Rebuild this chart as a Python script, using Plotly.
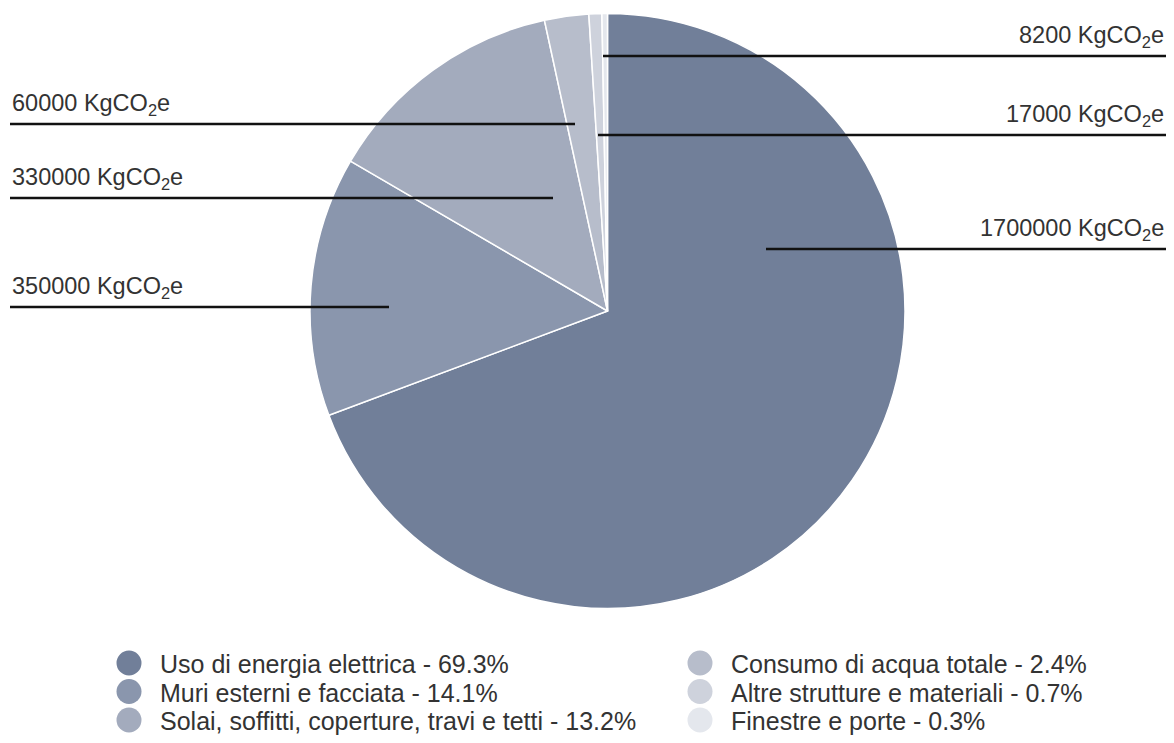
import plotly.graph_objects as go

# ---- data ----
categories = [
    "Uso di energia elettrica",
    "Muri esterni e facciata",
    "Solai, soffitti, coperture, travi e tetti",
    "Consumo di acqua totale",
    "Altre strutture e materiali",
    "Finestre e porte",
]
shares = [69.3, 14.1, 13.2, 2.4, 0.7, 0.3]
emissions = [1700000, 350000, 330000, 60000, 17000, 8200]
unit = "KgCO<sub>2</sub>e"

# ---- style / layout constants ----
colors = ["#717f99", "#8a96ad", "#a3abbd", "#b7bdcb", "#ced2dc", "#e4e7ed"]
W, H = 1174, 743
FONT = "Liberation Sans, Arial, Helvetica, sans-serif"
TEXT_COLOR = "#333333"

def px(x):
    return x / W

def py(y):
    return 1 - y / H

# label leader layout per slice: (side, line y px, inner x px)
label_layout = [
    ("right", 249, 766),
    ("left", 307, 389),
    ("left", 198, 553),
    ("left", 124, 575),
    ("right", 135, 598),
    ("right", 56, 603),
]
LEFT_X, RIGHT_X = 10, 1166

fig = go.Figure()
fig.add_trace(go.Pie(
    labels=categories,
    values=shares,
    sort=False,
    direction="clockwise",
    rotation=0,
    marker=dict(colors=colors, line=dict(color="white", width=1.5)),
    textinfo="none",
    hoverinfo="label+percent",
    showlegend=False,
    domain=dict(x=[px(310), px(905)], y=[py(609), py(13)]),
))

shapes = []
annotations = []
for i, (side, ly, ix) in enumerate(label_layout):
    if side == "right":
        x0, x1 = ix, RIGHT_X
        tx, anchor = RIGHT_X, "right"
    else:
        x0, x1 = LEFT_X, ix
        tx, anchor = LEFT_X, "left"
    shapes.append(dict(type="line", xref="paper", yref="paper",
                       x0=px(x0), x1=px(x1), y0=py(ly), y1=py(ly),
                       line=dict(color="#111111", width=2.5)))
    annotations.append(dict(xref="paper", yref="paper", x=px(tx), y=py(ly - 3),
                            xanchor=anchor, yanchor="bottom", showarrow=False,
                            text=f"{emissions[i]} {unit}",
                            font=dict(family=FONT, size=23.5, color=TEXT_COLOR)))

# legend (two columns of three)
col_circle_x = [129, 700]
col_text_x = [158, 729]
row_y = [663, 691.5, 720]
R = 12.5
for i, cat in enumerate(categories):
    c, r = divmod(i, 3)
    cx, cy = col_circle_x[c], row_y[r]
    shapes.append(dict(type="circle", xref="paper", yref="paper",
                       x0=px(cx - R), x1=px(cx + R), y0=py(cy + R), y1=py(cy - R),
                       fillcolor=colors[i], line=dict(width=0)))
    annotations.append(dict(xref="paper", yref="paper", x=px(col_text_x[c]), y=py(cy + 1),
                            xanchor="left", yanchor="middle", showarrow=False,
                            text=f"{cat} - {shares[i]}%",
                            font=dict(family=FONT, size=25, color=TEXT_COLOR)))

fig.update_layout(
    width=W, height=H,
    margin=dict(l=0, r=0, t=0, b=0),
    paper_bgcolor="white",
    plot_bgcolor="white",
    shapes=shapes,
    annotations=annotations,
    font=dict(family=FONT, color=TEXT_COLOR),
)

fig.write_html("out.html")
